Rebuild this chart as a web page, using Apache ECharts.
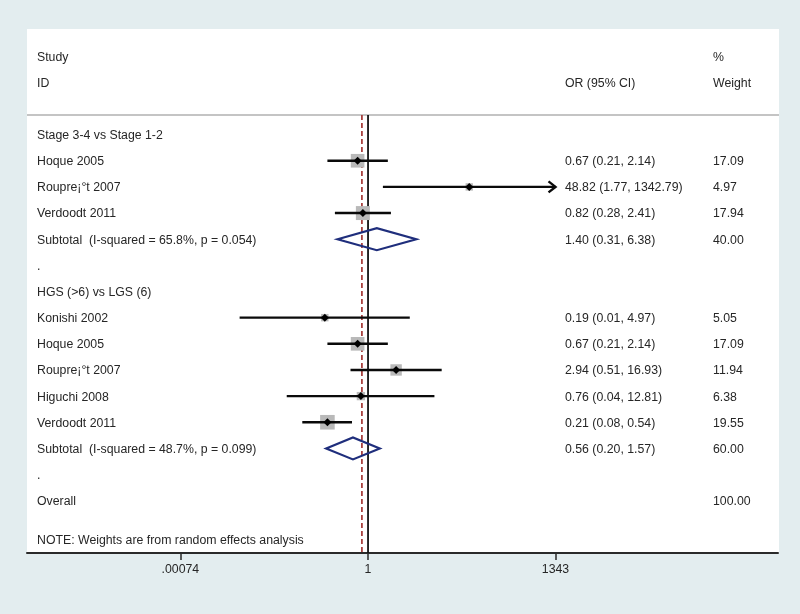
<!DOCTYPE html>
<html>
<head>
<meta charset="utf-8">
<script src="https://cdn.jsdelivr.net/npm/echarts@6/dist/echarts.min.js"></script>
<style>
html,body{margin:0;padding:0;background:#e3edef;}
#c{width:800px;height:614px;}
</style>
</head>
<body>
<div id="c"></div>
<script>
// ---------------- data ----------------
const headerLeft = ['Study', 'ID'];
const headerOR = ['', 'OR (95% CI)'];
const headerWeight = ['%', 'Weight'];

const rowLabels = [
  'Stage 3-4 vs Stage 1-2',
  'Hoque 2005',
  'Roupre\u00a1\u00b0t 2007',
  'Verdoodt 2011',
  'Subtotal  (I-squared = 65.8%, p = 0.054)',
  '.',
  'HGS (>6) vs LGS (6)',
  'Konishi 2002',
  'Hoque 2005',
  'Roupre\u00a1\u00b0t 2007',
  'Higuchi 2008',
  'Verdoodt 2011',
  'Subtotal  (I-squared = 48.7%, p = 0.099)',
  '.',
  'Overall'
];
const rowType = ['group','study','study','study','subtotal','blank','group','study','study','study','study','study','subtotal','blank','overall'];
const orValues = [null, 0.67, 48.82, 0.82, 1.40, null, null, 0.19, 0.67, 2.94, 0.76, 0.21, 0.56, null, null];
const ciLower  = [null, 0.21, 1.77, 0.28, 0.31, null, null, 0.0072, 0.21, 0.51, 0.044, 0.08, 0.20, null, null];
const ciUpper  = [null, 2.14, 1342.79, 2.41, 6.38, null, null, 4.97, 2.14, 16.93, 12.81, 0.54, 1.57, null, null];
const weights  = [null, 17.09, 4.97, 17.94, 40.00, null, null, 5.05, 17.09, 11.94, 6.38, 19.55, 60.00, null, 100.00];
const overallOR = 0.79;
const noteText = 'NOTE: Weights are from random effects analysis';
const tickValues = [0.00074, 1, 1343];
const tickLabels = ['.00074', '1', '1343'];

// ---------------- build ----------------
const lg = v => Math.log10(v);
const FONT = '12.3px "Liberation Sans", Arial, Helvetica, sans-serif';
const TXT = '#262626';
const COL_LEFT = 37, COL_OR = 565, COL_W = 713;

const studyIdx = [], subIdx = [];
rowType.forEach((t, i) => { if (t === 'study') studyIdx.push(i); if (t === 'subtotal') subIdx.push(i); });

const squares = studyIdx.map(i => ({ value: [lg(orValues[i]), i + 1], symbolSize: 3.3 * Math.sqrt(weights[i]) }));
const points = studyIdx.map(i => [lg(orValues[i]), i + 1]);
const ciData = studyIdx.map(i => [lg(ciLower[i]), lg(ciUpper[i]), i + 1]);
const diamondData = subIdx.map(i => [lg(ciLower[i]), lg(orValues[i]), lg(ciUpper[i]), i + 1]);
const tickLog = tickValues.map(lg);

const fmtCI = i => orValues[i] == null ? '' :
  orValues[i].toFixed(2) + ' (' + ciLower[i].toFixed(2) + ', ' + ciUpper[i].toFixed(2) + ')';

const textRows = [];
headerLeft.forEach((s, k) => textRows.push({ row: k - 2, a: s, b: headerOR[k], c: headerWeight[k] }));
rowLabels.forEach((s, i) => textRows.push({ row: i + 1, a: s, b: fmtCI(i), c: weights[i] == null ? '' : weights[i].toFixed(2) }));
textRows.push({ row: rowLabels.length + 1.5, a: noteText, b: '', c: '' });

const chart = echarts.init(document.getElementById('c'), null, { renderer: 'canvas' });

const option = {
  backgroundColor: '#e3edef',
  animation: false,
  graphic: [
    { type: 'rect', z: -1, shape: { x: 27, y: 29, width: 752, height: 524 }, style: { fill: '#ffffff' } },
    { type: 'line', z: -1, shape: { x1: 27, y1: 115, x2: 779, y2: 115 }, style: { stroke: '#c4c4c4', lineWidth: 2 } }
  ],
  grid: { left: 27, right: 22, top: 115, bottom: 61, containLabel: false, outerBoundsMode: 'none' },
  xAxis: {
    type: 'value', min: -5.69, max: 6.84,
    splitLine: { show: false },
    axisLine: { show: true, onZero: false, lineStyle: { color: '#2a2a2a', width: 2 } },
    axisTick: { show: true, customValues: tickLog, length: 7, lineStyle: { color: '#2a2a2a', width: 1.5 } },
    axisLabel: {
      customValues: tickLog, margin: 11, color: TXT, fontSize: 12.3,
      fontFamily: '"Liberation Sans", Arial, sans-serif',
      formatter: v => { for (let k = 0; k < tickLog.length; k++) if (Math.abs(tickLog[k] - v) < 1e-6) return tickLabels[k]; return ''; }
    }
  },
  yAxis: { type: 'value', inverse: true, min: 0.25, max: 17, show: false },
  series: [
    {
      name: 'refLines', type: 'custom', z: 1, clip: false,
      data: [[lg(1)], [lg(overallOR)]],
      encode: { x: 0 },
      renderItem: (params, api) => {
        const cs = params.coordSys;
        const x = api.coord([api.value(0), 1])[0];
        const isNull = params.dataIndex === 0;
        return {
          type: 'line',
          shape: { x1: x, y1: cs.y, x2: x, y2: cs.y + cs.height },
          style: isNull ? { stroke: '#111', lineWidth: 1.8 } : { stroke: '#a8413f', lineWidth: 1.8, lineDash: [5, 3] }
        };
      }
    },
    {
      name: 'weights', type: 'scatter', z: 2, symbol: 'rect',
      itemStyle: { color: '#b9b9b9', opacity: 1 },
      data: squares
    },
    {
      name: 'ci', type: 'custom', z: 3, clip: false,
      data: ciData,
      encode: { x: [0, 1], y: 2 },
      renderItem: (params, api) => {
        const y = api.value(2);
        const p1 = api.coord([api.value(0), y]);
        const p2 = api.coord([api.value(1), y]);
        const children = [{ type: 'line', shape: { x1: p1[0], y1: p1[1], x2: p2[0], y2: p2[1] }, style: { stroke: '#0a0a0a', lineWidth: 2.4 } }];
        if (api.value(1) >= tickLog[tickLog.length - 1] - 0.01) {
          children.push({ type: 'polyline', shape: { points: [[p2[0] - 7, p2[1] - 5.5], [p2[0], p2[1]], [p2[0] - 7, p2[1] + 5.5]] }, style: { stroke: '#0a0a0a', lineWidth: 2.4, fill: null } });
        }
        return { type: 'group', children };
      }
    },
    {
      name: 'subtotals', type: 'custom', z: 3, clip: false,
      data: diamondData,
      encode: { x: [0, 1, 2], y: 3 },
      renderItem: (params, api) => {
        const y = api.value(3);
        const l = api.coord([api.value(0), y]), c = api.coord([api.value(1), y]), r = api.coord([api.value(2), y]);
        const h = 11;
        return { type: 'polygon', shape: { points: [[l[0], l[1]], [c[0], c[1] - h], [r[0], r[1]], [c[0], c[1] + h]] }, style: { fill: null, stroke: '#1f2e7c', lineWidth: 2.2 } };
      }
    },
    {
      name: 'estimates', type: 'scatter', z: 4, symbol: 'diamond', symbolSize: 8,
      itemStyle: { color: '#000', opacity: 1 },
      data: points
    },
    {
      name: 'texts', type: 'custom', z: 5, clip: false, silent: true,
      data: textRows.map(t => [0, t.row]),
      encode: { x: 0, y: 1 },
      renderItem: (params, api) => {
        const t = textRows[params.dataIndex];
        const y = api.coord([0, api.value(1)])[1] + 1;
        const mk = (x, s) => ({ type: 'text', x: x, y: y, style: { text: s, font: FONT, fill: TXT, align: 'left', verticalAlign: 'middle' } });
        const ch = [];
        if (t.a) ch.push(mk(COL_LEFT, t.a));
        if (t.b) ch.push(mk(COL_OR, t.b));
        if (t.c) ch.push(mk(COL_W, t.c));
        return { type: 'group', children: ch };
      }
    }
  ]
};
chart.setOption(option);
</script>
</body>
</html>
